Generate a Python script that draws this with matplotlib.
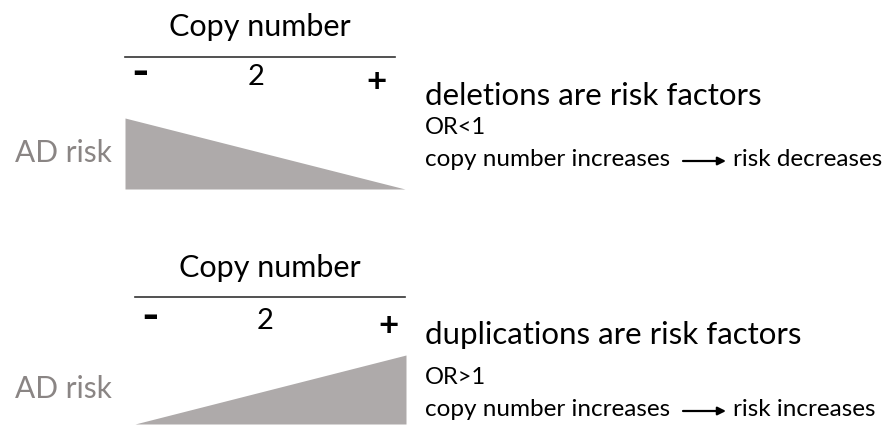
import matplotlib.pyplot as plt

# copy number axis: deletion (-), normal (2), duplication (+)
copy_labels = ['-', '2', '+']
copy_pos = [0.0, 0.5, 1.0]
# relative AD risk along the copy number axis
risk_del = [1.0, 0.5, 0.0]
risk_dup = [0.0, 0.5, 1.0]

headlines = ['deletions are risk factors', 'duplications are risk factors']
odds = ['OR<1', 'OR>1']
effects = ['risk decreases', 'risk increases']

W, H = 884, 425
FONT = ['Lato', 'DejaVu Sans']
TRI = '#aeaaaa'
GREY_TXT = '#8a8584'

fig = plt.figure(figsize=(W / 100, H / 100), dpi=100)
bg = fig.add_axes([0, 0, 1, 1])
bg.set_xlim(0, W)
bg.set_ylim(H, 0)
bg.axis('off')

tick_style = {'-': (34, 'bold', -7), '2': (21, 'normal', -3), '+': (25, 'bold', 2)}


def panel(x0, x_line, x_tri, y_title, y_line, y_ticks, tick_x, tri_top, tri_bot, risk):
    bg.text((x0 + x_line) / 2, y_title, 'Copy number', fontsize=22, family=FONT,
            ha='center', va='center')
    bg.plot([x0, x_line], [y_line, y_line], color='#333333', lw=1.2)
    for lab, xx in zip(copy_labels, tick_x):
        size, weight, dy = tick_style[lab]
        bg.text(xx, y_ticks + dy, lab, fontsize=size, fontweight=weight, family=FONT,
                ha='center', va='center')
    ax = fig.add_axes([x0 / W, 1 - tri_bot / H, (x_tri - x0) / W, (tri_bot - tri_top) / H])
    ax.fill_between(copy_pos, risk, 0, color=TRI, lw=0)
    ax.set_xlim(0, 1)
    ax.set_ylim(0, 1)
    ax.axis('off')
    bg.text(15, (tri_top + tri_bot) / 2, 'AD risk', fontsize=21.5, family=FONT,
            color=GREY_TXT, ha='left', va='center')


panel(125, 395, 405, 27, 57, 80, [140, 256, 377], 118, 189, risk_del)
panel(135, 405, 406, 268, 297, 324, [150, 265, 388], 355, 424, risk_dup)

for (yh, yo, ye), head, orr, eff in zip([(96, 127, 160), (335, 378, 410)],
                                        headlines, odds, effects):
    bg.text(425, yh, head, fontsize=22.5, family=FONT, ha='left', va='center')
    bg.text(425, yo, orr, fontsize=17, family=FONT, ha='left', va='center')
    bg.text(425, ye, 'copy number increases', fontsize=17.5, family=FONT,
            ha='left', va='center')
    bg.annotate('', xy=(726, ye + 1), xytext=(683, ye + 1),
                arrowprops=dict(arrowstyle='-|>', color='black', lw=1.6,
                                mutation_scale=12, shrinkA=0, shrinkB=0))
    bg.text(733, ye, eff, fontsize=17.5, family=FONT, ha='left', va='center')

fig.savefig('out.png', dpi=100)
